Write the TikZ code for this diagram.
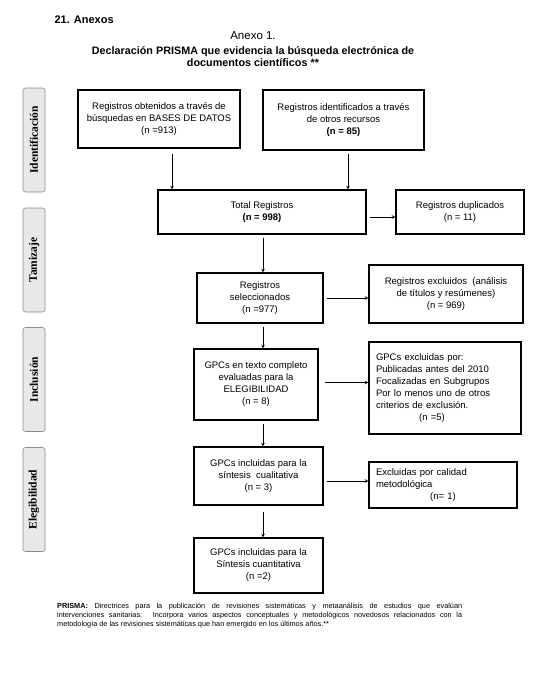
\documentclass[tikz,border=0pt]{standalone}
\usepackage{fontspec}
\setmainfont{Liberation Sans}
\newfontfamily\etiqfont{Liberation Serif}
\usetikzlibrary{positioning, calc}

\begin{document}
\begin{tikzpicture}[x=1pt, y=-1pt, >=stealth, font=\fontsize{9.5}{12}\selectfont]
		% estilos de nodos
			\tikzstyle{caja} = [rectangle, draw, line width=1.1pt, align=center, inner sep=2pt]
			\tikzstyle{cajaizq} = [rectangle, draw, line width=1.1pt, align=left, inner xsep=7pt, inner ysep=3pt]
			\tikzstyle{fase} = [draw=black!45, fill=black!9, rounded corners=2.5pt, line width=0.6pt, rotate=90, minimum width=104pt, minimum height=22pt, inner sep=0pt, font=\etiqfont\fontsize{11.5}{12}\selectfont\bfseries]
			\tikzstyle{flecha} = [->, line width=0.7pt, shorten <=3pt]
			
			\useasboundingbox (0,0) rectangle (546,688);
			
			% encabezado
			\node [anchor=west, font=\fontsize{11}{12}\selectfont\bfseries] (anexos) at (51,20) {21. Anexos};
			\node [font=\fontsize{11.5}{13}\selectfont] (titulo) at (253,36) {Anexo 1.};
			\node [below=0pt of titulo, font=\fontsize{10.8}{11.5}\selectfont\bfseries, align=center] (subtitulo) {Declaración PRISMA que evidencia la búsqueda electrónica de\\ documentos científicos **};
			
			% fases
			\node [fase] (ident) at (34,140) {Identificación};
			\node [fase] (tamiz) at (34,260) {Tamizaje};
			\node [fase] (inclu) at (34,379.5) {Inclusión};
			\node [fase] (elegi) at (34,499.5) {Elegibilidad};
			
			% cajas
			\node [caja, minimum width=162pt, minimum height=58pt] (bd) at (159,119) {Registros obtenidos a través de\\ búsquedas en BASES DE DATOS\\ (n =913)};
			\node [caja, minimum width=161pt, minimum height=60pt] (otros) at (343.5,120) {Registros identificados a través\\ de otros recursos\\ \textbf{(n = 85)}};
			\node [caja, minimum width=208pt, minimum height=44pt] (total) at (262,212) {Total Registros\\ \textbf{(n = 998)}};
			\node [caja, minimum width=128pt, minimum height=44pt] (dup) at (460,212) {Registros duplicados\\ (n = 11)};
			\node [caja, minimum width=126pt, minimum height=50pt] (sel) at (260,298) {Registros\\ seleccionados\\ (n =977)};
			\node [caja, minimum width=154pt, minimum height=58pt] (excl) at (446,294) {Registros excluidos\ \ (análisis\\ de títulos y resúmenes)\\ (n = 969)};
			\node [caja, minimum width=124pt, minimum height=71pt] (eleg) at (256,384.5) {GPCs en texto completo\\ evaluadas para la\\ ELEGIBILIDAD\\ (n = 8)};
			\node [cajaizq, text width=138pt, minimum height=92pt] (exclgpc) at (445,388) {GPCs excluidas por:\\ Publicadas antes del 2010\\ Focalizadas en Subgrupos\\ Por lo menos uno de otros\\ criterios de exclusión.\\ \makebox[112pt][c]{(n =5)}};
			\node [caja, minimum width=129pt, minimum height=58pt] (cual) at (258.5,476) {GPCs incluidas para la\\ síntesis\ \ cualitativa\\ (n = 3)};
			\node [cajaizq, text width=134pt, minimum height=46pt] (calidad) at (443,485) {Excluidas por calidad\\ metodológica\\ \makebox[134pt][c]{(n= 1)}};
			\node [caja, minimum width=129pt, minimum height=55pt] (cuant) at (258.5,565.5) {GPCs incluidas para la\\ Síntesis cuantitativa\\ (n =2)};
			
			% nota
			\node [anchor=north west, text width=405pt, align=justify, inner sep=0pt, font=\fontsize{7.3}{9}\selectfont] (nota) at (57,603) {\textbf{PRISMA:} Directrices para la publicación de revisiones sistemáticas y metaanálisis de estudios que evalúan\linebreak intervenciones sanitarias. Incorpora varios aspectos conceptuales y metodológicos novedosos relacionados con la\linebreak metodología de las revisiones sistemáticas que han emergido en los últimos años.**};
			
			\coordinate (ejebd) at (172,0);
			\coordinate (ejeot) at (348,0);
			\coordinate (eje) at (263,0);
			
			% flechas
			\draw [flecha, shorten <=5pt] (ejebd|-bd.south) -- (ejebd|-total.north);
			\draw [flecha, shorten <=3pt] (ejeot|-otros.south) -- (ejeot|-total.north);
			\draw [flecha] ([yshift=-5pt]total.east) -- ([yshift=-5pt]total.east-|dup.west);
			\draw [flecha] (eje|-total.south) -- (eje|-sel.north);
			\draw [flecha] (sel.east) -- (sel.east-|excl.west);
			\draw [flecha] (eje|-sel.south) -- (eje|-eleg.north);
			\draw [flecha, shorten <=6pt] ([yshift=2pt]eleg.east) -- ([yshift=2pt]eleg.east-|exclgpc.west);
			\draw [flecha] (eje|-eleg.south) -- (eje|-cual.north);
			\draw [flecha] ([yshift=-5pt]cual.east) -- ([yshift=-5pt]cual.east-|calidad.west);
			\draw [flecha, shorten <=6pt] (eje|-cual.south) -- (eje|-cuant.north);
		\end{tikzpicture}
\end{document}
